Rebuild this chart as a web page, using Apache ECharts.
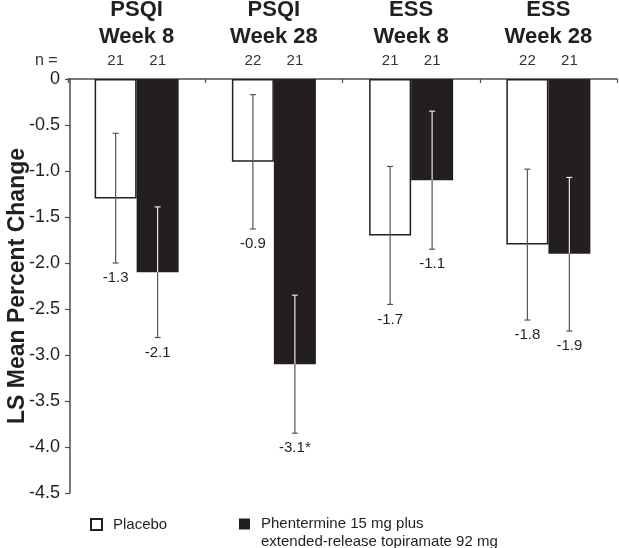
<!DOCTYPE html>
<html>
<head>
<meta charset="utf-8">
<script src="https://cdn.jsdelivr.net/npm/echarts@6/dist/echarts.min.js"></script>
<style>
html,body{margin:0;padding:0;background:#fff;}
#chart{width:619px;height:548px;}
</style>
</head>
<body>
<div id="chart"></div>
<script>
// ---- data ----
const categories = ['PSQI\nWeek 8', 'PSQI\nWeek 28', 'ESS\nWeek 8', 'ESS\nWeek 28'];
const seriesNames = ['Placebo', 'Phentermine 15 mg plus\nextended-release topiramate 92 mg'];
const placeboMean = [-1.3, -0.9, -1.7, -1.8];
const placeboLow  = [-2.0, -1.63, -2.45, -2.62];
const placeboHigh = [-0.59, -0.17, -0.95, -0.98];
const phenMean = [-2.1, -3.1, -1.1, -1.9];
const phenLow  = [-2.81, -3.85, -1.85, -2.74];
const phenHigh = [-1.39, -2.35, -0.35, -1.07];
const placeboMark = ['', '', '', ''];
const phenMark = ['', '*', '', ''];
const nPlacebo = [21, 22, 21, 22];
const nPhen = [21, 21, 21, 21];

const FONT = "'Liberation Sans', Arial, Helvetica, sans-serif";
const INK = '#231f20';
const AXIS = '#4d4d4d';
const BAR_W = 42;

// error-bar data: [cat, low, high, seriesIdx, mean, label, n]
const errData = [];
categories.forEach((c, i) => {
  errData.push([i, placeboLow[i], placeboHigh[i], 0, placeboMean[i], placeboMean[i].toFixed(1) + placeboMark[i], nPlacebo[i]]);
  errData.push([i, phenLow[i], phenHigh[i], 1, phenMean[i], phenMean[i].toFixed(1) + phenMark[i], nPhen[i]]);
});

function renderErr(params, api) {
  const cat = api.value(0);
  const lo = api.value(1), hi = api.value(2), s = api.value(3), mean = api.value(4);
  const item = errData[params.dataIndex];
  const label = item[5], n = item[6];
  const c = api.coord([cat, mean]);
  const x = c[0] + (s === 0 ? -BAR_W / 2 : BAR_W / 2);
  const yMean = c[1];
  const yHi = api.coord([cat, hi])[1];
  const yLo = api.coord([cat, lo])[1];
  const y0 = api.coord([cat, 0])[1];
  const gray = '#555555';
  const inner = s === 1 ? '#e6e6e6' : gray;
  const cap = 3;
  const lw = 1.2;
  const ch = [
    {type: 'line', shape: {x1: x, y1: yHi, x2: x, y2: yMean}, style: {stroke: inner, lineWidth: lw}},
    {type: 'line', shape: {x1: x, y1: yMean, x2: x, y2: yLo}, style: {stroke: gray, lineWidth: lw}},
    {type: 'line', shape: {x1: x - cap, y1: yHi, x2: x + cap, y2: yHi}, style: {stroke: inner, lineWidth: lw}},
    {type: 'line', shape: {x1: x - cap, y1: yLo, x2: x + cap, y2: yLo}, style: {stroke: gray, lineWidth: lw}},
    {type: 'text', x: x, y: yLo + 15, style: {text: label, fill: INK, font: '15px ' + FONT, align: 'center', verticalAlign: 'middle'}},
    {type: 'text', x: x, y: y0 - 18, style: {text: String(n), fill: '#333', font: '15px ' + FONT, align: 'center', verticalAlign: 'middle'}}
  ];
  return {type: 'group', children: ch};
}

const chart = echarts.init(document.getElementById('chart'), null, {renderer: 'canvas'});
chart.setOption({
  animation: false,
  backgroundColor: '#fff',
  textStyle: {fontFamily: FONT},
  title: {
    text: 'n =', left: 35, top: 53, padding: 0,
    textStyle: {fontSize: 16, fontWeight: 'normal', color: '#333', fontFamily: FONT}
  },
  grid: {left: 68, right: 2, top: 79, bottom: 55, containLabel: false, outerBoundsMode: 'none'},
  legend: [
    {
      data: [seriesNames[0]], left: 90, top: 517, padding: 0,
      icon: 'rect', itemWidth: 11, itemHeight: 11,
      textStyle: {fontSize: 15, color: INK, fontFamily: FONT, padding: [0, 0, 0, 6]}
    },
    {
      data: [seriesNames[1]], left: 239, top: 515, padding: 0,
      icon: 'path://M0,0L11,0L11,11L0,11Z M0,29L11,29L11,29.01Z', itemWidth: 11, itemHeight: 29,
      textStyle: {fontSize: 15, color: INK, fontFamily: FONT, lineHeight: 18, padding: [0, 0, 0, 6]}
    }
  ],
  xAxis: {
    type: 'category', position: 'top', data: categories,
    axisLine: {lineStyle: {color: AXIS, width: 1.5}},
    axisTick: {show: true, inside: true, length: 4, lineStyle: {color: AXIS, width: 1.2}},
    axisLabel: {
      margin: 29, fontSize: 22, fontWeight: 'bold', lineHeight: 27, color: INK, fontFamily: FONT, interval: 0
    },
    splitLine: {show: false}
  },
  yAxis: {
    type: 'value', min: -4.5, max: 0, interval: 0.5, offset: -2,
    name: 'LS Mean Percent Change', nameLocation: 'middle', nameRotate: 90, nameGap: 41,
    nameMoveOverlap: false,
    nameTextStyle: {fontSize: 23, fontWeight: 'bold', color: INK, fontFamily: FONT},
    axisLine: {show: true, lineStyle: {color: AXIS, width: 1.5}},
    axisTick: {show: true, length: 5, lineStyle: {color: AXIS, width: 1.2}},
    axisLabel: {
      margin: 10, fontSize: 18, color: INK, fontFamily: FONT,
      formatter: v => (v === 0 ? '0' : v.toFixed(1))
    },
    splitLine: {show: false}
  },
  series: [
    {
      name: seriesNames[0], type: 'bar', data: placeboMean, barWidth: BAR_W, barGap: '0%',
      itemStyle: {color: '#ffffff', borderColor: INK, borderWidth: 1.5}
    },
    {
      name: seriesNames[1], type: 'bar', data: phenMean, barWidth: BAR_W, barGap: '0%',
      itemStyle: {color: INK, borderColor: INK, borderWidth: 0}
    },
    {
      type: 'custom', data: errData, renderItem: renderErr, z: 5, clip: false, silent: true,
      encode: {x: 0, y: [1, 2]}
    }
  ]
});
</script>
</body>
</html>
